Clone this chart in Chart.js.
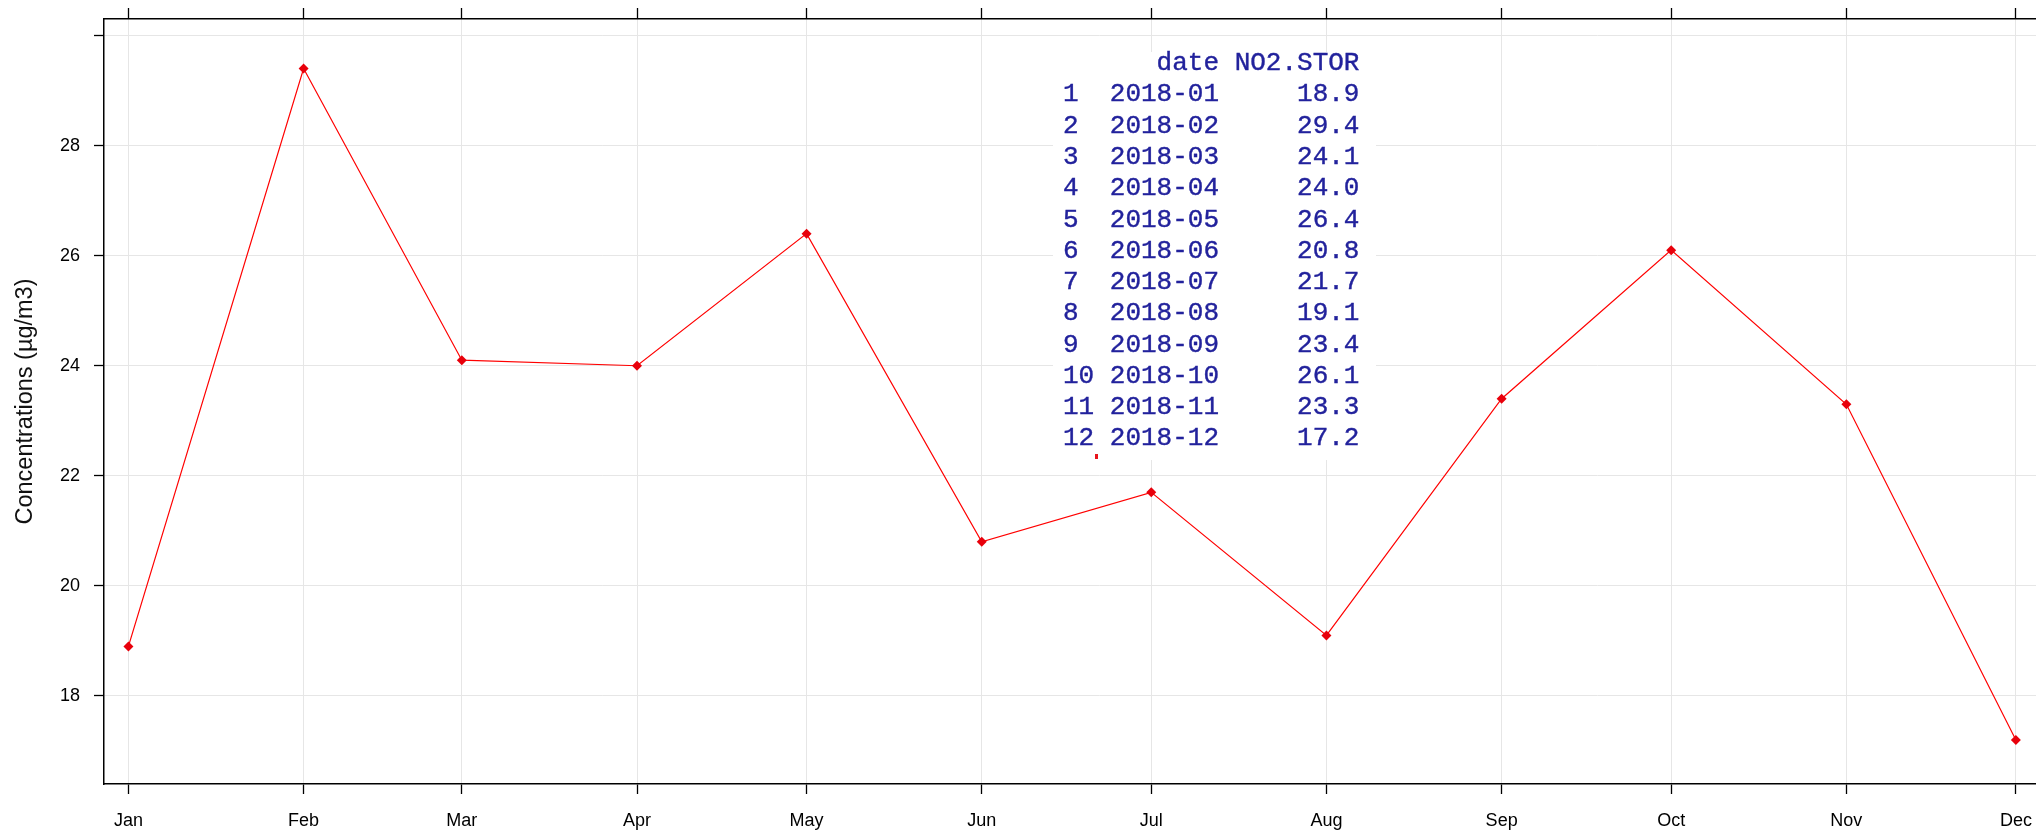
<!DOCTYPE html>
<html>
<head>
<meta charset="utf-8">
<script src="https://cdn.jsdelivr.net/npm/chart.js@4"></script>
<style>
  html, body { margin: 0; padding: 0; background: #fff; overflow: hidden; }
  #wrap { width: 2036px; height: 835px; overflow: hidden; }
</style>
</head>
<body>
<div id="wrap"><canvas id="chart" width="2100" height="835"></canvas></div>
<script>
const monthLabels = ["Jan", "Feb", "Mar", "Apr", "May", "Jun", "Jul", "Aug", "Sep", "Oct", "Nov", "Dec"];
const tableDates = ["2018-01", "2018-02", "2018-03", "2018-04", "2018-05", "2018-06",
                    "2018-07", "2018-08", "2018-09", "2018-10", "2018-11", "2018-12"];
const no2Values = [18.9, 29.4, 24.1, 24.0, 26.4, 20.8, 21.7, 19.1, 23.4, 26.1, 23.3, 17.2];
const yTickValues = [18, 20, 22, 24, 26, 28, 30];
const yTickLabels = ["18", "20", "22", "24", "26", "28", ""];

// days since 1 Jan 2018 for "YYYY-MM"
function dayOf(ym) {
  const [y, m] = ym.split("-").map(Number);
  return (Date.UTC(y, m - 1, 1) - Date.UTC(2018, 0, 1)) / 86400000;
}
const monthDays = tableDates.map(dayOf);
const points = tableDates.map((d, i) => ({ x: dayOf(d), y: no2Values[i] }));

const X_MIN = -4.32, X_MAX = 348.0;
const Y_MIN = 16.40, Y_MAX = 30.30;

const tickFont = { family: "'Liberation Sans', Arial, sans-serif", size: 18 };

function noPad(s) {
  s.paddingTop = 0; s.paddingBottom = 0; s.paddingLeft = 0; s.paddingRight = 0;
}

// printed data frame drawn over the plot, like the console output in the picture
const tablePlugin = {
  id: "table",
  afterDraw(chart) {
    const ctx = chart.ctx;
    ctx.save();
    ctx.fillStyle = "#fff";
    ctx.fillRect(1053, 52, 323, 408);
    ctx.font = "26px 'Liberation Mono', monospace";
    ctx.fillStyle = "#22229c";
    ctx.strokeStyle = "#22229c";
    ctx.lineWidth = 0.4;
    ctx.textBaseline = "middle";
    ctx.textAlign = "left";
    const lines = ["      date NO2.STOR"];
    tableDates.forEach((d, i) => {
      lines.push(String(i + 1).padEnd(2) + " " + d + " " + no2Values[i].toFixed(1).padStart(8));
    });
    lines.forEach((l, i) => {
      ctx.fillText(l, 1063, 63.3 + i * 31.27);
      ctx.strokeText(l, 1063, 63.3 + i * 31.27);
    });
    ctx.fillStyle = "#e8141c";
    ctx.fillRect(1095, 454, 3, 5);
    ctx.restore();
  }
};

new Chart(document.getElementById("chart"), {
  type: "line",
  data: {
    datasets: [{
      data: points,
      borderColor: "#ff0000",
      borderWidth: 1.2,
      backgroundColor: "#e8000b",
      pointBackgroundColor: "#e8000b",
      pointBorderColor: "#e8000b",
      pointStyle: "rectRot",
      pointRadius: 5,
      pointBorderWidth: 0,
      tension: 0
    }]
  },
  options: {
    responsive: false,
    animation: false,
    layout: { padding: 0 },
    plugins: { legend: { display: false }, tooltip: { enabled: false } },
    scales: {
      x: {
        type: "linear",
        position: "bottom",
        min: X_MIN,
        max: X_MAX,
        afterBuildTicks: s => { s.ticks = monthDays.map(v => ({ value: v })); },
        afterFit: s => { s.height = 51; noPad(s); },
        ticks: {
          callback: (v, i) => monthLabels[i],
          font: tickFont,
          color: "#000",
          padding: 16,
          maxRotation: 0,
          autoSkip: false
        },
        grid: { color: "#e6e6e6", lineWidth: 1, tickColor: "#000", tickWidth: 1.3, tickLength: 10 },
        border: { display: true, color: "#000", width: 1.5 }
      },
      xTop: {
        type: "linear",
        position: "top",
        min: X_MIN,
        max: X_MAX,
        afterBuildTicks: s => { s.ticks = monthDays.map(v => ({ value: v })); },
        afterFit: s => { s.height = 19; noPad(s); },
        ticks: { display: false },
        grid: { drawOnChartArea: false, tickColor: "#000", tickWidth: 1.3, tickLength: 11 },
        border: { display: true, color: "#000", width: 1.5 }
      },
      y: {
        type: "linear",
        position: "left",
        min: Y_MIN,
        max: Y_MAX,
        afterBuildTicks: s => { s.ticks = yTickValues.map(v => ({ value: v })); },
        afterFit: s => { s.width = 104; noPad(s); },
        ticks: {
          callback: (v, i) => yTickLabels[i],
          font: tickFont,
          color: "#000",
          padding: 14
        },
        grid: { color: "#e6e6e6", lineWidth: 1, tickColor: "#000", tickWidth: 1.3, tickLength: 10 },
        border: { display: true, color: "#000", width: 1.5 },
        title: {
          display: true,
          text: "Concentrations (µg/m3)",
          font: { family: "'Liberation Sans', Arial, sans-serif", size: 23.5 },
          color: "#111",
          padding: { top: 11, bottom: 0 }
        }
      }
    }
  },
  plugins: [tablePlugin]
});
</script>
</body>
</html>
